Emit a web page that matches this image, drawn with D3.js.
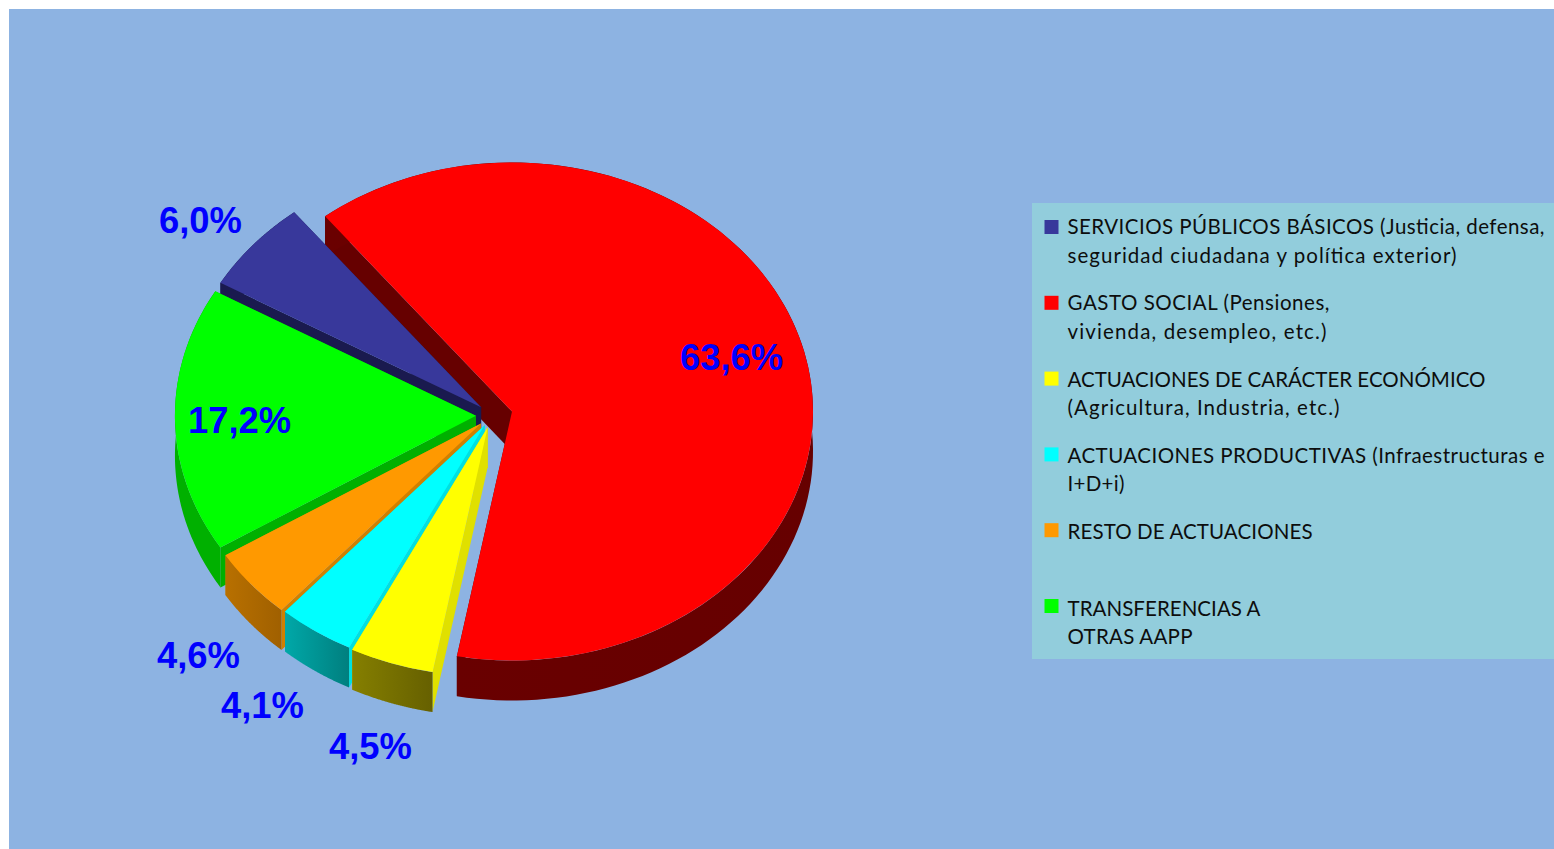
<!DOCTYPE html>
<html>
<head>
<meta charset="utf-8">
<script src="https://cdn.jsdelivr.net/npm/d3@7"></script>
<style>
  html, body { margin: 0; padding: 0; background: #fff; overflow: hidden; }
  svg { display: block; }
</style>
</head>
<body>
<svg id="chart"></svg>
<script>
// Data, same order as the legend
const categories = ["basicos", "social", "economico", "productivas", "resto", "transferencias"];
const values = [6.0, 63.6, 4.5, 4.1, 4.6, 17.2];
const valueLabels = ["6,0%", "63,6%", "4,5%", "4,1%", "4,6%", "17,2%"];
const legendLines = [
    ["SERVICIOS PÚBLICOS BÁSICOS (Justicia, defensa,", "seguridad ciudadana y política exterior)"],
    ["GASTO SOCIAL (Pensiones,", "vivienda, desempleo, etc.)"],
    ["ACTUACIONES DE CARÁCTER ECONÓMICO", "(Agricultura, Industria, etc.)"],
    ["ACTUACIONES PRODUCTIVAS (Infraestructuras e", "I+D+i)"],
    ["RESTO DE ACTUACIONES"],
    ["TRANSFERENCIAS A", "OTRAS AAPP"]
];
// Width of each legend line in the reference
const legendWidths = [[477, 389], [262, 259], [418, 272], [477, 57], [245], [193, 125]];

// Colours
const topColors = ["#38389b", "#ff0000", "#ffff00", "#00ffff", "#ff9900", "#00ff00"];
const sideColors = ["#1a1a4f", "#660000", "#e0e000", "#00e0e0", "#d08000", "#00b000"];
const wallLight = ["#1a1a4f", "#6a0000", "#857f00", "#00a8a8", "#b87000", "#00b000"];
const wallDark = ["#1a1a4f", "#660000", "#666000", "#007f7f", "#a06000", "#00b000"];

// Pie layout
const width = 1554, height = 849;
const cx = 492.5, cy = 415.5;  // pie centre before explosion
const rx = 301, ry = 249;      // tilted ellipse radii
const depth = 40;              // height of the pie wall
const startDeg = -60;
const explode = [0.05, 0.0668, 0.05, 0.047, 0.05, 0.055];
const drawOrder = ["social", "basicos", "transferencias", "resto", "productivas", "economico"];

const svg = d3.select("#chart").attr("width", width).attr("height", height);
const defs = svg.append("defs");

// Panel background and legend box
svg.append("rect").attr("x", 9).attr("y", 9)
    .attr("width", width - 9).attr("height", height - 9)
    .attr("fill", "#8db3e2");
svg.append("rect").attr("x", 1032).attr("y", 203)
    .attr("width", width - 1032).attr("height", 456)
    .attr("fill", "#92cddc");

const color = d3.scaleOrdinal().domain(categories).range(topColors);

const pie = d3.pie().sort(null)
    .startAngle(startDeg * Math.PI / 180)
    .endAngle((startDeg + 360) * Math.PI / 180);

const slices = pie(values).map((s, i) => {
    const mid = (s.startAngle + s.endAngle) / 2;
    return {
        ...s,
        key: categories[i],
        index: i,
        ox: cx + explode[i] * rx * Math.sin(mid),
        oy: cy - explode[i] * ry * Math.cos(mid)
    };
});

// Point on the rim of the ellipse
const rim = (a) => [rx * Math.sin(a), -ry * Math.cos(a)];
const arcTop = d3.arc().innerRadius(0).outerRadius(1);
const line = d3.line();

const pieG = svg.append("g");

drawOrder.forEach((key) => {
    const s = slices.find(d => d.key === key);
    const g = pieG.append("g").attr("transform", `translate(${s.ox},${s.oy})`);

    const gradId = "wall-" + s.key;
    const grad = defs.append("linearGradient").attr("id", gradId)
        .attr("x1", 0).attr("x2", 1).attr("y1", 0).attr("y2", 0);
    grad.append("stop").attr("offset", 0).attr("stop-color", wallLight[s.index]);
    grad.append("stop").attr("offset", 1).attr("stop-color", wallDark[s.index]);

    // Flat side walls of the wedge
    [s.startAngle, s.endAngle].forEach((a) => {
        const p = rim(a);
        g.append("path")
            .attr("d", line([[0, 0], p, [p[0], p[1] + depth], [0, depth]]) + "Z")
            .attr("fill", sideColors[s.index]);
    });

    // Curved outer wall
    const steps = d3.range(0, 121).map(t => s.startAngle + (s.endAngle - s.startAngle) * t / 120);
    const upper = steps.map(rim);
    const lower = upper.map(p => [p[0], p[1] + depth]).reverse();
    g.append("path")
        .attr("d", line(upper.concat(lower)) + "Z")
        .attr("fill", `url(#${gradId})`);

    // Top face
    g.append("path")
        .attr("transform", `scale(${rx},${ry})`)
        .attr("d", arcTop({ startAngle: s.startAngle, endAngle: s.endAngle }))
        .attr("fill", color(s.key));
});

// Value labels (left edge and baseline of each text)
const labelX = [159, 680, 329, 221, 157, 188];
const labelY = [233, 369.5, 759, 718, 668, 433];
svg.append("g").selectAll("text")
    .data(valueLabels)
    .join("text")
    .attr("x", (d, i) => labelX[i])
    .attr("y", (d, i) => labelY[i])
    .attr("font-family", "'Liberation Sans', Arial, sans-serif")
    .attr("font-weight", "bold")
    .attr("font-size", 36.4)
    .attr("fill", "#0000ff")
    .text(d => d);

// Legend
const legendY = d3.scalePoint().domain(categories).range([220, 599]);
const legendTextY = d3.scalePoint().domain(categories).range([234, 615.5]);
const legend = svg.append("g").selectAll("g")
    .data(categories)
    .join("g");

legend.append("rect")
    .attr("x", 1044.5)
    .attr("y", d => legendY(d))
    .attr("width", 14).attr("height", 14)
    .attr("fill", d => color(d));

legend.each(function (d, i) {
    d3.select(this).selectAll("text")
        .data(legendLines[i])
        .join("text")
        .attr("x", 1067.5)
        .attr("y", (t, j) => legendTextY(d) + j * 28.5)
        .attr("font-family", "Lato, 'Open Sans', sans-serif")
        .attr("font-size", 20.5)
        .attr("textLength", (t, j) => legendWidths[i][j])
        .attr("lengthAdjust", "spacing")
        .attr("fill", "#0d0d0d")
        .text(t => t);
});
</script>
</body>
</html>
